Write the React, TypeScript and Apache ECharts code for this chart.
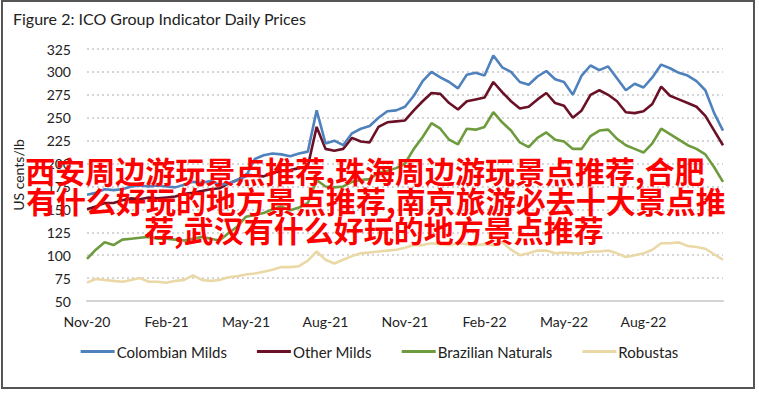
import React, { useEffect, useRef } from "react";
import * as echarts from "echarts";

const monthNames = ["Nov-20", "Dec-20", "Jan-21", "Feb-21", "Mar-21", "Apr-21", "May-21", "Jun-21", "Jul-21", "Aug-21", "Sep-21", "Oct-21", "Nov-21", "Dec-21", "Jan-22", "Feb-22", "Mar-22", "Apr-22", "May-22", "Jun-22", "Jul-22", "Aug-22", "Sep-22", "Oct-22", "Nov-22"];
const dayParts = ["01", "11", "21"];
// category per ~10 days
const categories: string[] = [];
monthNames.forEach((m, mi) => {
  dayParts.forEach((d) => {
    if (mi < monthNames.length - 1 || d === "01") categories.push(d + "-" + m);
  });
});

const tickLabels = ["Nov-20", "Feb-21", "May-21", "Aug-21", "Nov-21", "Feb-22", "May-22", "Aug-22"];

const colombianMilds = [166, 168, 172, 171, 172, 175, 176, 175, 176, 175, 174, 177, 180, 179, 181, 177, 178, 182, 186, 205, 209, 211, 210, 208, 211, 213, 258, 222, 225, 220, 233, 238, 241, 250, 257, 258, 262, 274, 290, 300, 294, 289, 282, 297, 299, 296, 318, 305, 300, 289, 286, 295, 301, 292, 289, 275, 296, 307, 302, 306, 293, 280, 287, 283, 294, 308, 304, 299, 296, 290, 280, 255, 236];
const otherMilds = [150, 153, 157, 157, 160, 162, 161, 163, 162, 163, 164, 167, 168, 170, 172, 173, 178, 182, 188, 187, 186, 190, 192, 193, 195, 197, 240, 216, 214, 216, 228, 224, 223, 240, 245, 246, 247, 258, 268, 277, 276, 266, 259, 268, 270, 272, 289, 278, 268, 260, 262, 270, 277, 266, 263, 250, 258, 275, 280, 275, 268, 256, 255, 257, 265, 284, 274, 270, 266, 262, 252, 236, 220];
const brazilianNaturals = [96, 106, 114, 111, 117, 118, 119, 120, 118, 118, 117, 116, 118, 120, 118, 116, 124, 131, 142, 144, 146, 150, 153, 149, 152, 157, 182, 175, 174, 175, 180, 182, 183, 190, 192, 195, 200, 216, 229, 244, 238, 226, 221, 238, 237, 240, 256, 245, 236, 223, 218, 228, 234, 226, 224, 216, 216, 230, 236, 237, 227, 220, 216, 212, 222, 238, 232, 226, 220, 216, 210, 196, 180];
const robustas = [70, 74, 73, 72, 71, 73, 75, 71, 71, 70, 72, 73, 78, 73, 72, 73, 76, 77, 79, 80, 82, 84, 87, 87, 88, 94, 104, 95, 91, 95, 99, 102, 103, 104, 105, 106, 108, 111, 111, 113, 112, 111, 113, 112, 111, 112, 111, 114, 106, 100, 102, 105, 105, 102, 103, 102, 102, 104, 104, 105, 102, 98, 100, 102, 106, 113, 113, 114, 110, 109, 107, 101, 95];

const seriesNames = ["Colombian Milds", "Other Milds", "Brazilian Naturals", "Robustas"];
const seriesColors = ["#4f81bd", "#6b1127", "#6f9b3f", "#ead8a6"];

const overlayLines = [
  "西安周边游玩景点推荐,珠海周边游玩景点推荐,合肥",
  "有什么好玩的地方景点推荐,南京旅游必去十大景点推",
  "荐,武汉有什么好玩的地方景点推荐",
];

const FONT = "Lato, 'Noto Sans', sans-serif";

export default function App() {
  const ref = useRef<HTMLDivElement>(null);
  useEffect(() => {
    if (!ref.current) return;
    const chart = echarts.init(ref.current, undefined, { renderer: "svg" });
    const dataSets = [colombianMilds, otherMilds, brazilianNaturals, robustas];
    chart.setOption({
      animation: false,
      backgroundColor: "#ffffff",
      textStyle: { fontFamily: FONT },
      title: {
        text: "Figure 2: ICO Group Indicator Daily Prices",
        left: 8,
        top: 5,
        textStyle: { fontFamily: FONT, fontSize: 16, fontWeight: "normal", color: "#222" },
      },
      grid: { left: 87, right: 36, top: 49, bottom: 92 },
      legend: {
        data: seriesNames,
        left: "center",
        top: 339,
        icon: "rect",
        itemWidth: 34,
        itemHeight: 3,
        itemGap: 30,
        textStyle: { fontFamily: FONT, fontSize: 15, color: "#222", padding: [0, 0, 0, -3] },
      },
      xAxis: {
        type: "category",
        data: categories,
        boundaryGap: false,
        axisLine: { show: true, lineStyle: { color: "#d4d4d4", width: 2 } },
        axisTick: { show: false },
        axisLabel: {
          interval: (index: number) => index % 9 === 0 && index / 9 < tickLabels.length,
          formatter: (_v: string, index: number) => tickLabels[index / 9] ?? "",
          margin: 13,
          fontFamily: FONT,
          fontSize: 14,
          color: "#222",
        },
        splitLine: { show: false },
      },
      yAxis: {
        type: "value",
        min: 50,
        max: 325,
        interval: 25,
        name: "US cents/lb",
        nameLocation: "middle",
        nameGap: 62,
        nameTextStyle: { fontFamily: FONT, fontSize: 14, color: "#222" },
        axisLine: { show: false },
        axisTick: { show: false },
        axisLabel: { margin: 16, fontFamily: FONT, fontSize: 14, color: "#222" },
        splitLine: { show: true, lineStyle: { type: [2, 3], color: "#c8c8c8", width: 1.5 } },
      },
      series: seriesNames.map((name, i) => ({
        name,
        type: "line",
        data: dataSets[i],
        showSymbol: false,
        symbol: "none",
        lineStyle: { color: seriesColors[i], width: 2.6 },
        itemStyle: { color: seriesColors[i] },
        z: 10 - i,
      })),
      graphic: [
        {
          type: "rect",
          shape: { x: 2, y: 1, width: 752, height: 387 },
          style: { fill: "none", stroke: "#555", lineWidth: 2 },
          silent: true,
          z: 100,
        },
        ...overlayLines.map((t, i) => ({
          type: "text",
          x: [365, 376, 374][i],
          y: [170, 200, 229][i],
          z: 200,
          style: {
            text: t,
            fill: "#ff0000",
            font: "bold 30px 'Noto Sans CJK SC', sans-serif",
            textAlign: "center",
            textVerticalAlign: "middle",
          },
        })),
      ],
    });
    return () => chart.dispose();
  }, []);
  return <div ref={ref} style={{ position: "fixed", left: 0, top: 0, width: 759, height: 393 }} />;
}
